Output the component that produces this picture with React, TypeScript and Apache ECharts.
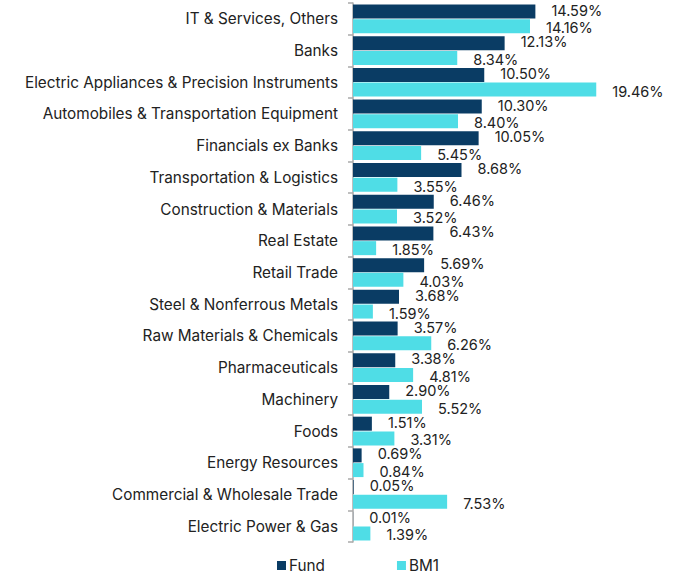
import React, { useEffect, useRef } from "react";
import * as echarts from "echarts";

const categories = [
  "IT & Services, Others",
  "Banks",
  "Electric Appliances & Precision Instruments",
  "Automobiles & Transportation Equipment",
  "Financials ex Banks",
  "Transportation & Logistics",
  "Construction & Materials",
  "Real Estate",
  "Retail Trade",
  "Steel & Nonferrous Metals",
  "Raw Materials & Chemicals",
  "Pharmaceuticals",
  "Machinery",
  "Foods",
  "Energy Resources",
  "Commercial & Wholesale Trade",
  "Electric Power & Gas",
];

const fundValues = [14.59, 12.13, 10.5, 10.3, 10.05, 8.68, 6.46, 6.43, 5.69, 3.68, 3.57, 3.38, 2.9, 1.51, 0.69, 0.05, 0.01];
const bm1Values = [14.16, 8.34, 19.46, 8.4, 5.45, 3.55, 3.52, 1.85, 4.03, 1.59, 6.26, 4.81, 5.52, 3.31, 0.84, 7.53, 1.39];

const FONT = "Inter";

export default function App() {
  const ref = useRef<HTMLDivElement>(null);
  useEffect(() => {
    document.body.style.margin = "0";
    const chart = echarts.init(ref.current!, undefined, { renderer: "svg" });
    const label = {
      show: true,
      position: "right" as const,
      distance: 16,
      color: "#222",
      fontFamily: FONT,
      fontSize: 14.5,
      lineHeight: 14,
      formatter: (p: any) => p.value.toFixed(2) + "%",
    };
    chart.setOption({
      animation: false,
      grid: { left: 353, top: 3, width: 250, height: 539 },
      legend: {
        top: 553,
        left: 272,
        itemWidth: 9,
        itemHeight: 9,
        itemGap: 72,
        icon: "rect",
        textStyle: { fontFamily: FONT, fontSize: 15.3, color: "#222", padding: [0, 0, 0, -2] },
        data: ["Fund", "BM1"],
      },
      xAxis: { type: "value", min: 0, max: 20, show: false },
      yAxis: {
        type: "category",
        inverse: true,
        data: categories,
        axisLine: { show: true, lineStyle: { color: "#aaa", width: 1.5 } },
        axisTick: { show: true, length: 5, lineStyle: { color: "#aaa", width: 1.5 } },
        axisLabel: { margin: 15, color: "#222", fontFamily: FONT, fontSize: 15.3 },
      },
      series: [
        {
          name: "Fund",
          type: "bar",
          data: fundValues,
          barWidth: 14,
          barGap: "5%",
          itemStyle: { color: "#0a3c64" },
          label: { ...label, offset: [0, -1.5] },
        },
        {
          name: "BM1",
          type: "bar",
          data: bm1Values,
          barWidth: 14,
          itemStyle: { color: "#4fdde6" },
          label: { ...label, offset: [0, 1.5] },
        },
      ],
    });
    return () => chart.dispose();
  }, []);
  return <div ref={ref} style={{ width: 678, height: 578 }} />;
}
